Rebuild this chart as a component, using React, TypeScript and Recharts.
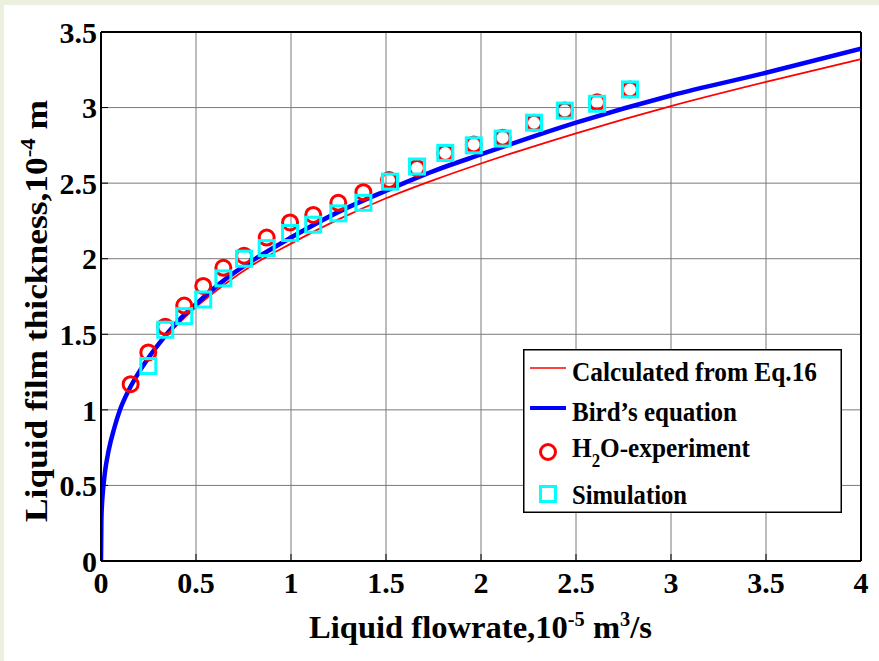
import React from 'react';
import {
  ComposedChart,
  Line,
  Scatter,
  XAxis,
  YAxis,
  CartesianGrid,
  ReferenceLine,
  Legend,
} from 'recharts';

const xTicks = [0, 0.5, 1, 1.5, 2, 2.5, 3, 3.5, 4];
const yTicks = [0, 0.5, 1, 1.5, 2, 2.5, 3, 3.5];

const curveFlow = [0, 0.002, 0.005, 0.01, 0.02, 0.04, 0.07, 0.1, 0.15, 0.2, 0.3, 0.4, 0.5, 0.65, 0.8, 1, 1.25, 1.5, 1.75, 2, 2.5, 3, 3.5, 4];
const eq16Thickness = [0, 0.27, 0.37, 0.46, 0.58, 0.73, 0.88, 0.99, 1.13, 1.24, 1.42, 1.56, 1.68, 1.83, 1.96, 2.1, 2.26, 2.4, 2.52, 2.63, 2.83, 3.01, 3.17, 3.32];
const birdThickness = [0, 0.27, 0.37, 0.46, 0.58, 0.73, 0.88, 1.0, 1.14, 1.25, 1.43, 1.58, 1.7, 1.86, 1.99, 2.14, 2.31, 2.45, 2.58, 2.69, 2.9, 3.08, 3.23, 3.39];

const expFlow = [0.156, 0.249, 0.338, 0.438, 0.538, 0.644, 0.753, 0.872, 0.995, 1.117, 1.249, 1.381, 1.516, 1.663, 1.812, 1.962, 2.114, 2.279, 2.441, 2.611, 2.784];
const expThickness = [1.17, 1.38, 1.55, 1.69, 1.82, 1.94, 2.02, 2.14, 2.24, 2.29, 2.37, 2.44, 2.52, 2.6, 2.7, 2.755, 2.8, 2.9, 2.98, 3.035, 3.12];

const simFlow = [0.249, 0.338, 0.438, 0.538, 0.644, 0.753, 0.872, 0.995, 1.117, 1.249, 1.381, 1.521, 1.663, 1.812, 1.962, 2.114, 2.279, 2.441, 2.611, 2.784];
const simThickness = [1.29, 1.53, 1.62, 1.73, 1.87, 2.0, 2.07, 2.17, 2.225, 2.3, 2.37, 2.51, 2.61, 2.7, 2.75, 2.795, 2.9, 2.98, 3.025, 3.12];

const legendLabels = ['Calculated from Eq.16', "Bird\u2019s equation", 'H2O-experiment', 'Simulation'];

const eq16Data = curveFlow.map((x, i) => ({ x, y: eq16Thickness[i] }));
const birdData = curveFlow.map((x, i) => ({ x, y: birdThickness[i] }));
const expData = expFlow.map((x, i) => ({ x, y: expThickness[i] }));
const simData = simFlow.map((x, i) => ({ x, y: simThickness[i] }));

const FONT = "'Liberation Serif', 'Times New Roman', serif";

const CircleMark = (p: any) => (
  <circle cx={p.cx} cy={p.cy} r={7.5} fill="none" stroke="#FF0000" strokeWidth={3} />
);
const SquareMark = (p: any) => (
  <rect x={p.cx - 7.5} y={p.cy - 7.5} width={15} height={15} fill="none" stroke="#00FFFF" strokeWidth={3} />
);

const XTitle = () => (
  <text
    x={309}
    y={638}
    textAnchor="start"
    fontFamily={FONT}
    fontWeight="bold"
    fontSize={32}
    fill="#000"
    textLength={343}
    lengthAdjust="spacingAndGlyphs"
  >
    Liquid flowrate,10
    <tspan dy={-12} fontSize={20}>-5</tspan>
    <tspan dy={12}> m</tspan>
    <tspan dy={-12} fontSize={20}>3</tspan>
    <tspan dy={12}>/s</tspan>
  </text>
);

const YTitle = () => (
  <text
    transform="translate(47,522) rotate(-90)"
    x={0}
    y={0}
    textAnchor="start"
    fontFamily={FONT}
    fontWeight="bold"
    fontSize={31}
    fill="#000"
    textLength={422}
    lengthAdjust="spacingAndGlyphs"
  >
    Liquid film thickness,10
    <tspan dy={-12} fontSize={20}>-4</tspan>
    <tspan dy={12}> m</tspan>
  </text>
);

const LegendBox = () => (
  <svg width={319} height={164} style={{ display: 'block' }}>
    <rect x={0.75} y={0.75} width={317.5} height={162.5} fill="#fff" stroke="#000" strokeWidth={1.5} />
    <line x1={7} x2={43} y1={19} y2={19} stroke="#FF0000" strokeWidth={1.5} />
    <text x={49} y={32} fontFamily={FONT} fontWeight="bold" fontSize={27} fill="#000" textLength={245} lengthAdjust="spacingAndGlyphs">
      {legendLabels[0]}
    </text>
    <line x1={7} x2={43} y1={59} y2={59} stroke="#0000FF" strokeWidth={4} />
    <text x={49} y={72} fontFamily={FONT} fontWeight="bold" fontSize={27} fill="#000" textLength={165} lengthAdjust="spacingAndGlyphs">
      {legendLabels[1]}
    </text>
    <circle cx={25} cy={103} r={7.5} fill="none" stroke="#FF0000" strokeWidth={3} />
    <text x={49} y={108} fontFamily={FONT} fontWeight="bold" fontSize={27} fill="#000" textLength={178} lengthAdjust="spacingAndGlyphs">
      H<tspan dy={10} fontSize={18}>2</tspan>
      <tspan dy={-10}>O-experiment</tspan>
    </text>
    <rect x={17.5} y={137.5} width={15} height={15} fill="none" stroke="#00FFFF" strokeWidth={3} />
    <text x={49} y={155} fontFamily={FONT} fontWeight="bold" fontSize={27} fill="#000" textLength={115} lengthAdjust="spacingAndGlyphs">
      {legendLabels[3]}
    </text>
  </svg>
);

const tickStyle = { fill: '#000', fontSize: 30, fontWeight: 'bold', fontFamily: FONT };

export default function App() {
  return (
    <div style={{ position: 'absolute', left: 0, top: 0, width: 879, height: 661, background: '#EBF1DE' }}>
      <div style={{ position: 'absolute', left: 4, top: 5, width: 875, height: 656, background: '#FFFFFF' }} />
      <div style={{ position: 'absolute', left: 0, top: 0 }}>
        <ComposedChart width={879} height={661} margin={{ top: 32, right: 18, bottom: 40, left: 41 }}>
          <CartesianGrid stroke="#7a7a7a" strokeWidth={1} horizontalValues={yTicks} verticalValues={xTicks} />
          <XAxis
            dataKey="x"
            type="number"
            domain={[0, 4]}
            ticks={xTicks}
            interval={0}
            height={60}
            tick={tickStyle}
            tickSize={-7}
            tickMargin={18}
            tickLine={{ stroke: '#000', strokeWidth: 1 }}
            axisLine={{ stroke: '#000', strokeWidth: 2 }}
            allowDataOverflow
            label={{ content: () => <XTitle /> }}
          />
          <YAxis
            dataKey="y"
            type="number"
            domain={[0, 3.5]}
            ticks={yTicks}
            interval={0}
            width={60}
            tick={tickStyle}
            tickSize={-7}
            tickMargin={11}
            tickLine={{ stroke: '#000', strokeWidth: 1 }}
            axisLine={{ stroke: '#000', strokeWidth: 2 }}
            allowDataOverflow
            label={{ content: () => <YTitle /> }}
          />
          <ReferenceLine y={3.5} stroke="#000" strokeWidth={2} />
          <ReferenceLine x={4} stroke="#000" strokeWidth={2} />
          <Line data={eq16Data} dataKey="y" type="monotone" stroke="#FF0000" strokeWidth={1.8} dot={false} isAnimationActive={false} />
          <Line data={birdData} dataKey="y" type="monotone" stroke="#0000FF" strokeWidth={4.5} dot={false} isAnimationActive={false} />
          <Scatter data={expData} dataKey="y" shape={CircleMark} isAnimationActive={false} />
          <Scatter data={simData} dataKey="y" shape={SquareMark} isAnimationActive={false} />
          <Legend
            layout="vertical"
            align="center"
            verticalAlign="middle"
            wrapperStyle={{ left: 523, top: 349, width: 319, height: 164, margin: 0, padding: 0 }}
            content={() => <LegendBox />}
          />
        </ComposedChart>
      </div>
    </div>
  );
}
